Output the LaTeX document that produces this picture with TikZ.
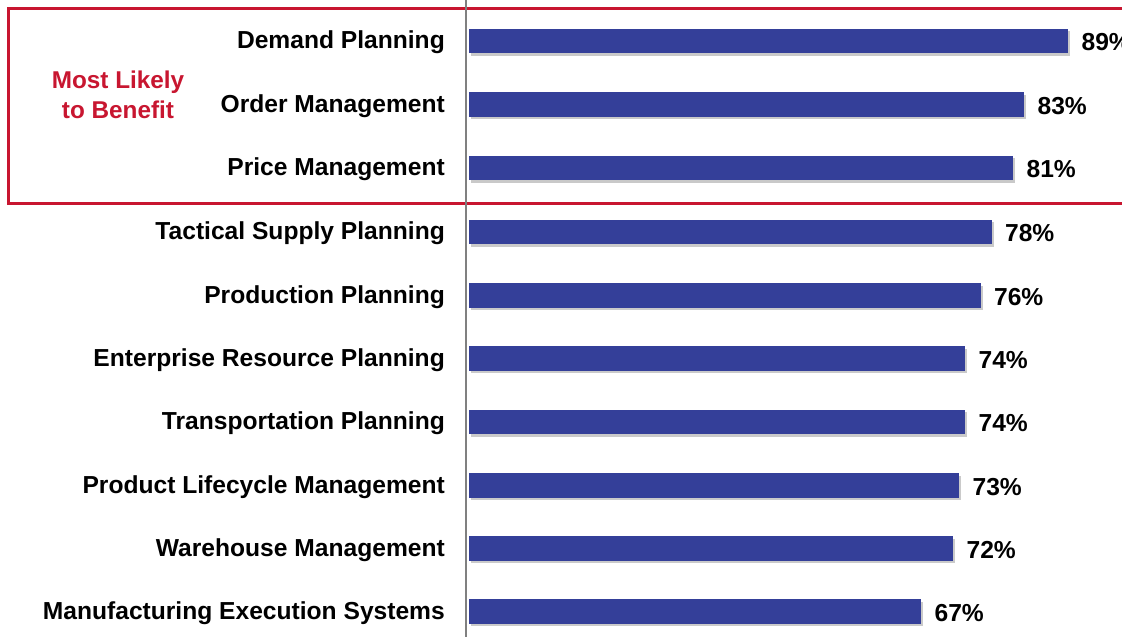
\documentclass[tikz,border=0pt]{standalone}
\usepackage{fontspec}
\setmainfont{Liberation Sans}
\usepackage{tikz}
\usetikzlibrary{positioning,shadows}
\definecolor{barblue}{RGB}{52,63,153}
\definecolor{boxred}{RGB}{200,22,48}
\tikzstyle{bar}=[fill=barblue, minimum height=24.5pt, inner sep=0pt, anchor=west, drop shadow={shadow xshift=2pt, shadow yshift=-2.5pt, fill=black!35, opacity=0.6}]
\tikzstyle{item}=[anchor=east, inner sep=0pt, yshift=-1.5pt, font=\fontsize{24.6}{29}\selectfont\bfseries]
\tikzstyle{value}=[anchor=west, inner sep=0pt, yshift=-1.5pt, font=\fontsize{24.6}{29}\selectfont\bfseries]

\begin{document}
\begin{tikzpicture}[x=1pt,y=-1pt]
	\useasboundingbox (0,0) rectangle (1122,637);
	% highlight box
	\draw[boxred, line width=3pt, drop shadow={shadow xshift=1pt, shadow yshift=-2pt, fill=black!30, opacity=0.5}, fill=white] (8,8) rectangle (1126,203);
	\node[boxred, inner sep=0pt, align=center, font=\fontsize{24.3}{30}\selectfont\bfseries] (benefit) at (118,95) {Most Likely\\to Benefit};
	% axis
	\coordinate (axtop) at (466,0);
	\coordinate (axbot) at (466,637);
	\draw[black!50, line width=2.5pt] (axtop) -- (axbot);
	% bars
	\node[bar, minimum width=599pt] (demand) at (469,41) {};
	\node[bar, minimum width=555pt] (order) at (469,104.5) {};
	\node[bar, minimum width=544pt] (price) at (469,168) {};
	\node[bar, minimum width=522.5pt] (tactical) at (469,232) {};
	\node[bar, minimum width=511.5pt] (production) at (469,295.5) {};
	\node[bar, minimum width=496pt] (erp) at (469,358.5) {};
	\node[bar, minimum width=496pt] (transport) at (469,422) {};
	\node[bar, minimum width=490pt] (plm) at (469,485.5) {};
	\node[bar, minimum width=484pt] (warehouse) at (469,548.5) {};
	\node[bar, minimum width=452pt] (mes) at (469,611.5) {};
	% labels
	\node[item, left=24pt of demand.west] (demandL) {Demand Planning};
	\node[item, left=24pt of order.west] (orderL) {Order Management};
	\node[item, left=24pt of price.west] (priceL) {Price Management};
	\node[item, left=24pt of tactical.west] (tacticalL) {Tactical Supply Planning};
	\node[item, left=24pt of production.west] (productionL) {Production Planning};
	\node[item, left=24pt of erp.west] (erpL) {Enterprise Resource Planning};
	\node[item, left=24pt of transport.west] (transportL) {Transportation Planning};
	\node[item, left=24pt of plm.west] (plmL) {Product Lifecycle Management};
	\node[item, left=24pt of warehouse.west] (warehouseL) {Warehouse Management};
	\node[item, left=24pt of mes.west] (mesL) {Manufacturing Execution Systems};
	% values
	\node[value, right=13pt of demand.east] (demandV) {89\%};
	\node[value, right=13pt of order.east] (orderV) {83\%};
	\node[value, right=13pt of price.east] (priceV) {81\%};
	\node[value, right=13pt of tactical.east] (tacticalV) {78\%};
	\node[value, right=13pt of production.east] (productionV) {76\%};
	\node[value, right=13pt of erp.east] (erpV) {74\%};
	\node[value, right=13pt of transport.east] (transportV) {74\%};
	\node[value, right=13pt of plm.east] (plmV) {73\%};
	\node[value, right=13pt of warehouse.east] (warehouseV) {72\%};
	\node[value, right=13pt of mes.east] (mesV) {67\%};
\end{tikzpicture}
\end{document}
